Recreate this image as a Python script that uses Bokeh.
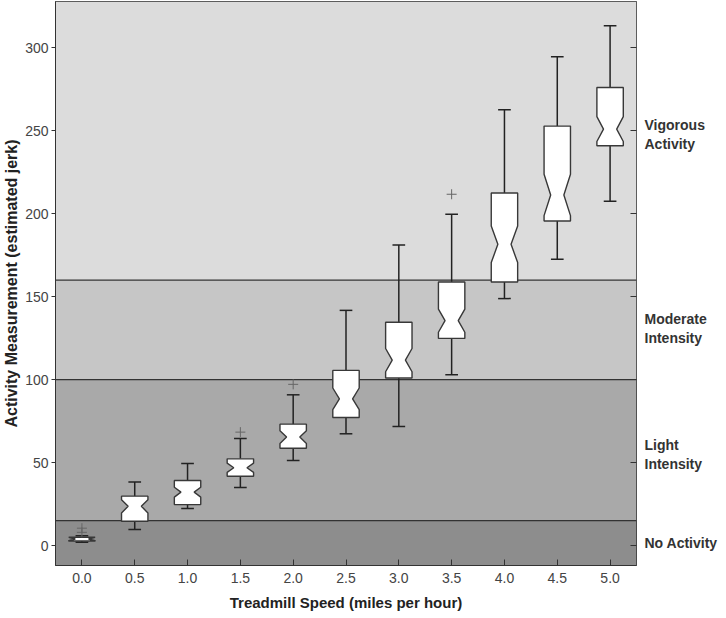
from bokeh.plotting import figure
from bokeh.models import (Range1d, FixedTicker, LinearAxis, BoxAnnotation, Span,
                          NumeralTickFormatter, CustomJSTickFormatter)
from bokeh.embed import file_html
from bokeh.resources import INLINE

# ---- data ----
speeds = [0.0, 0.5, 1.0, 1.5, 2.0, 2.5, 3.0, 3.5, 4.0, 4.5, 5.0]
q1 = [2.8, 14.7, 24.7, 41.8, 58.7, 77.2, 101.0, 124.9, 158.9, 195.7, 241.0]
med = [4.0, 23.7, 32.2, 46.9, 65.4, 88.5, 111.8, 135.6, 181.6, 211.4, 251.1]
q3 = [5.0, 29.8, 39.2, 52.3, 73.2, 105.6, 134.6, 158.9, 212.6, 252.9, 276.2]
whisk_lo = [2.0, 9.7, 22.3, 35.0, 51.3, 67.4, 71.8, 103.0, 148.9, 172.6, 207.6]
whisk_hi = [6.0, 38.4, 49.5, 64.6, 90.9, 141.8, 181.2, 199.8, 262.7, 294.7, 313.4]
notch_half = [1.0, 4.0, 3.0, 2.8, 3.8, 6.5, 7.0, 7.0, 11.0, 12.5, 7.5]

outlier_x = [0.0, 0.0, 1.5, 2.0, 3.5]
outlier_y = [8.0, 10.5, 68.4, 97.2, 211.8]

zone_edges = [15, 100, 160]
zone_colors = ["#8d8d8d", "#a9a9a9", "#c6c6c6", "#dcdcdc"]
zone_names = ["No Activity", "Light\nIntensity", "Moderate\nIntensity", "Vigorous\nActivity"]
zone_label_y = [1.5, 55, 131, 248]

y_ticks = [0, 50, 100, 150, 200, 250, 300]

# ---- figure ----
p = figure(frame_width=581, frame_height=564,
           min_border_left=48, min_border_right=81, min_border_top=1, min_border_bottom=50,
           x_range=Range1d(-0.25, 5.25), y_range=Range1d(-12, 328),
           output_backend="svg", toolbar_location=None, background_fill_color="#dcdcdc")
p.xgrid.visible = False
p.ygrid.visible = False
p.outline_line_color = "#333333"
p.outline_line_width = 1

# zones
bounds = [None] + zone_edges + [None]
for i, c in enumerate(zone_colors):
    p.add_layout(BoxAnnotation(bottom=bounds[i], top=bounds[i + 1], fill_color=c,
                               fill_alpha=1, line_alpha=0, level="underlay"))
for e in zone_edges:
    p.add_layout(Span(location=e, dimension="width", line_color="#333333",
                      line_width=1.2, level="underlay"))

# boxes
w = 0.125
cap = 0.06
xs, ys = [], []
for s, a, m, b, n in zip(speeds, q1, med, q3, notch_half):
    xs.append([s - w, s + w, s + w, s + w / 2, s + w, s + w, s - w, s - w, s - w / 2, s - w])
    ys.append([b, b, m + n, m, m - n, a, a, m - n, m, m + n])

p.segment(x0=speeds, y0=q3, x1=speeds, y1=whisk_hi, line_color="#222222", line_width=1.5)
p.segment(x0=speeds, y0=whisk_lo, x1=speeds, y1=q1, line_color="#222222", line_width=1.5)
p.segment(x0=[s - cap for s in speeds], y0=whisk_hi, x1=[s + cap for s in speeds], y1=whisk_hi,
          line_color="#222222", line_width=1.5)
p.segment(x0=[s - cap for s in speeds], y0=whisk_lo, x1=[s + cap for s in speeds], y1=whisk_lo,
          line_color="#222222", line_width=1.5)
p.patches(xs, ys, fill_color="white", line_color="#383838", line_width=1.4)
p.scatter(outlier_x, outlier_y, marker="cross", size=10, line_color="#666666", line_width=1)

# axes
tick_font = "Liberation Sans"
xa = p.xaxis[0]
xa.ticker = FixedTicker(ticks=speeds)
xa.formatter = NumeralTickFormatter(format="0.0")
xa.major_tick_in = 6
xa.major_tick_out = 0
xa.minor_tick_line_color = None
xa.axis_line_color = "#333333"
xa.major_tick_line_color = "#333333"
xa.major_label_text_font = tick_font
xa.major_label_text_font_size = "14px"
xa.major_label_text_color = "#444444"
xa.major_label_standoff = 7
xa.axis_label = "Treadmill Speed (miles per hour)"
xa.axis_label_text_font = tick_font
xa.axis_label_text_font_style = "bold"
xa.axis_label_text_font_size = "15px"
xa.axis_label_text_color = "#222222"
xa.axis_label_standoff = 8

ya = p.yaxis[0]
ya.ticker = FixedTicker(ticks=y_ticks)
ya.major_tick_in = 0
ya.major_tick_out = 4
ya.minor_tick_line_color = None
ya.axis_line_color = "#333333"
ya.major_tick_line_color = "#333333"
ya.major_label_text_font = tick_font
ya.major_label_text_font_size = "14px"
ya.major_label_text_color = "#444444"
ya.major_label_standoff = 3
ya.axis_label = "Activity Measurement (estimated jerk)"
ya.axis_label_text_font = tick_font
ya.axis_label_text_font_style = "bold"
ya.axis_label_text_font_size = "16px"
ya.axis_label_text_color = "#222222"
ya.axis_label_standoff = 2

# right: inner ticks without labels
ra = LinearAxis(ticker=FixedTicker(ticks=y_ticks),
                formatter=CustomJSTickFormatter(code="return ''"))
ra.major_tick_in = 6
ra.major_tick_out = 0
ra.minor_tick_line_color = None
ra.axis_line_color = None
ra.major_tick_line_color = "#333333"
ra.major_label_standoff = 0
p.add_layout(ra, "right")

# right: activity zone labels
za = LinearAxis(ticker=FixedTicker(ticks=zone_label_y),
                major_label_overrides={v: t for v, t in zip(zone_label_y, zone_names)})
za.major_tick_in = 0
za.major_tick_out = 0
za.minor_tick_line_color = None
za.major_tick_line_color = None
za.axis_line_color = None
za.major_label_standoff = 8
za.major_label_text_font = tick_font
za.major_label_text_font_style = "bold"
za.major_label_text_font_size = "14px"
za.major_label_text_color = "#333333"
p.add_layout(za, "right")

open("out.html", "w").write(file_html(p, INLINE))
